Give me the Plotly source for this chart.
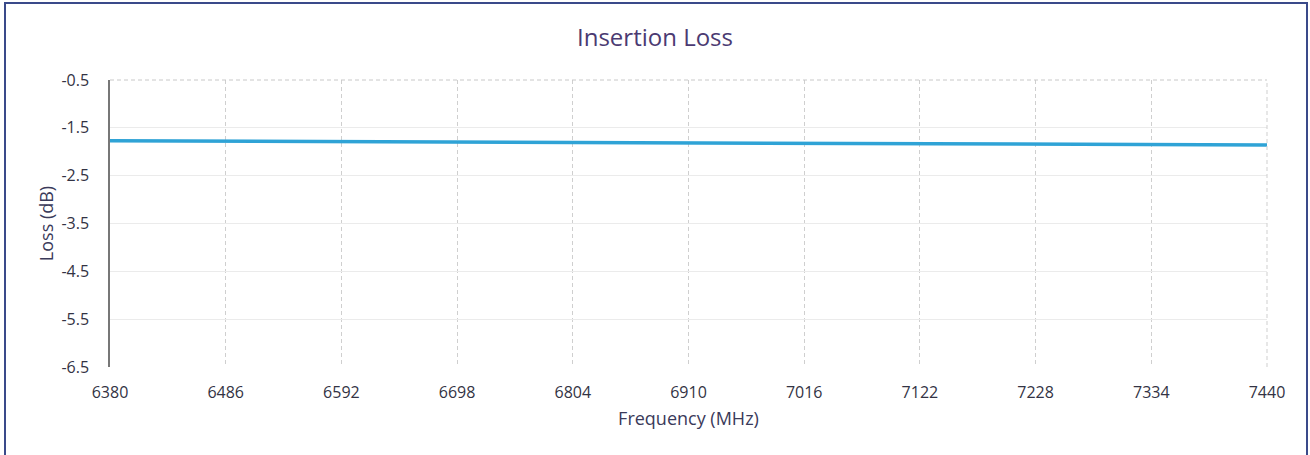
import plotly.graph_objects as go

freq = [6380, 6433, 6486, 6539, 6592, 6645, 6698, 6751, 6804, 6857, 6910,
        6963, 7016, 7069, 7122, 7175, 7228, 7281, 7334, 7387, 7440]
loss = [-1.77, -1.775, -1.78, -1.785, -1.79, -1.79, -1.795, -1.80, -1.805, -1.81, -1.81,
        -1.815, -1.82, -1.825, -1.83, -1.835, -1.84, -1.845, -1.845, -1.85, -1.86]
x_ticks = [6380, 6486, 6592, 6698, 6804, 6910, 7016, 7122, 7228, 7334, 7440]
y_ticks = [-0.5, -1.5, -2.5, -3.5, -4.5, -5.5, -6.5]

FONT = "Open Sans"
W, H = 1310, 455
L, R, T, B = 110, 43, 80, 88
PW, PH = W - L - R, H - T - B

fig = go.Figure()
fig.add_trace(go.Scatter(x=freq, y=loss, mode="lines",
                         line=dict(color="#2fa3d6", width=3.5), showlegend=False))

fig.update_layout(
    width=W, height=H,
    margin=dict(l=L, r=R, t=T, b=B),
    paper_bgcolor="white", plot_bgcolor="white",
    title=dict(text="Insertion Loss", x=0.5, xanchor="center", y=1 - 38 / H, yanchor="middle",
               font=dict(family=FONT, size=24, color="#4b3a72")),
    font=dict(family=FONT, color="#333344"),
    xaxis=dict(range=[6380, 7440], tickvals=x_ticks, ticktext=[str(v) for v in x_ticks],
               title=dict(text="Frequency (MHz)", font=dict(size=18, color="#3a3a5a"), standoff=10),
               tickfont=dict(size=16, color="#333344"),
               showgrid=True, gridcolor="#cfcfcf", griddash="4px,3px", gridwidth=1,
               zeroline=False, showline=False, ticks="", ticklabelstandoff=14),
    yaxis=dict(range=[-6.5, -0.5], tickvals=y_ticks, ticktext=[str(v) for v in y_ticks],
               title=dict(text="Loss (dB)", font=dict(size=18, color="#3a3a5a"), standoff=3),
               tickfont=dict(size=16, color="#333344"),
               showgrid=True, gridcolor="#ebebeb", gridwidth=1,
               zeroline=False, showline=True, linecolor="#777777", linewidth=1.5, ticks="",
               ticklabelstandoff=16),
)
# top and right dashed frame of plot area
fig.add_shape(type="line", xref="paper", yref="paper", x0=0, x1=1, y0=1, y1=1,
              line=dict(color="#c8c8c8", width=1, dash="4px,3px"))
fig.add_shape(type="line", xref="paper", yref="paper", x0=1, x1=1, y0=0, y1=1,
              line=dict(color="#cfcfcf", width=1, dash="4px,3px"))
# outer chart border
fig.add_shape(type="rect", xref="paper", yref="paper",
              x0=(5 - L) / PW, x1=(1307 - L) / PW,
              y0=(H - B - 470) / PH, y1=(H - B - 3) / PH,
              line=dict(color="#3a4a8a", width=2), layer="below")
fig.write_html("out.html", config={"displayModeBar": False},
               post_script="document.body.style.margin='0';document.body.style.overflow='hidden';")
